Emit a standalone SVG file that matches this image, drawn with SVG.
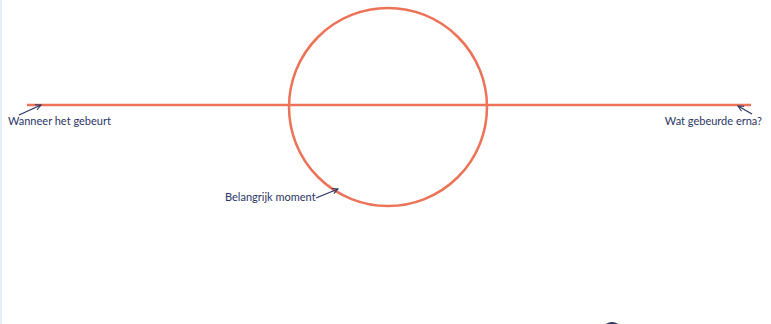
<svg xmlns="http://www.w3.org/2000/svg" width="771" height="324" viewBox="0 0 771 324">
<style>
.shape{fill:none;stroke:#EC7358;stroke-width:2.5}
.lbl{font-family:Lato,"Liberation Sans",sans-serif;font-size:11px;fill:#2A3566}
.ptr{fill:none;stroke:#2A3566;stroke-width:1.3}
</style>
<defs>
<marker id="ah" viewBox="0 0 10 10" refX="9" refY="5" markerWidth="7" markerHeight="7" orient="auto" markerUnits="userSpaceOnUse">
<path d="M1,1 L9,5 L1,9" fill="none" stroke="#2A3566" stroke-width="1.5"/>
</marker>
</defs>
<rect x="0" y="0" width="771" height="324" fill="#ffffff"/>
<line x1="1" y1="0" x2="1" y2="324" stroke="#E6EEF8" stroke-width="2"/>
<g id="timeline"><line class="shape" x1="27" y1="105" x2="751" y2="105"/></g>
<g id="moment"><circle class="shape" cx="388" cy="107" r="99"/></g>
<g id="label-start"><text class="lbl" x="8" y="125">Wanneer het gebeurt</text></g>
<g id="label-end"><text class="lbl" x="762" y="125" text-anchor="end">Wat gebeurde erna?</text></g>
<g id="label-moment"><text class="lbl" x="225" y="201">Belangrijk moment</text></g>
<g id="connectors">
<line class="ptr" x1="19" y1="115" x2="41" y2="105" marker-end="url(#ah)"/>
<line class="ptr" x1="752" y1="114" x2="738" y2="106" marker-end="url(#ah)"/>
<line class="ptr" x1="316" y1="198" x2="338" y2="189" marker-end="url(#ah)"/>
</g>
<ellipse cx="612" cy="328" rx="8" ry="6" fill="#2A3566"/>
</svg>
